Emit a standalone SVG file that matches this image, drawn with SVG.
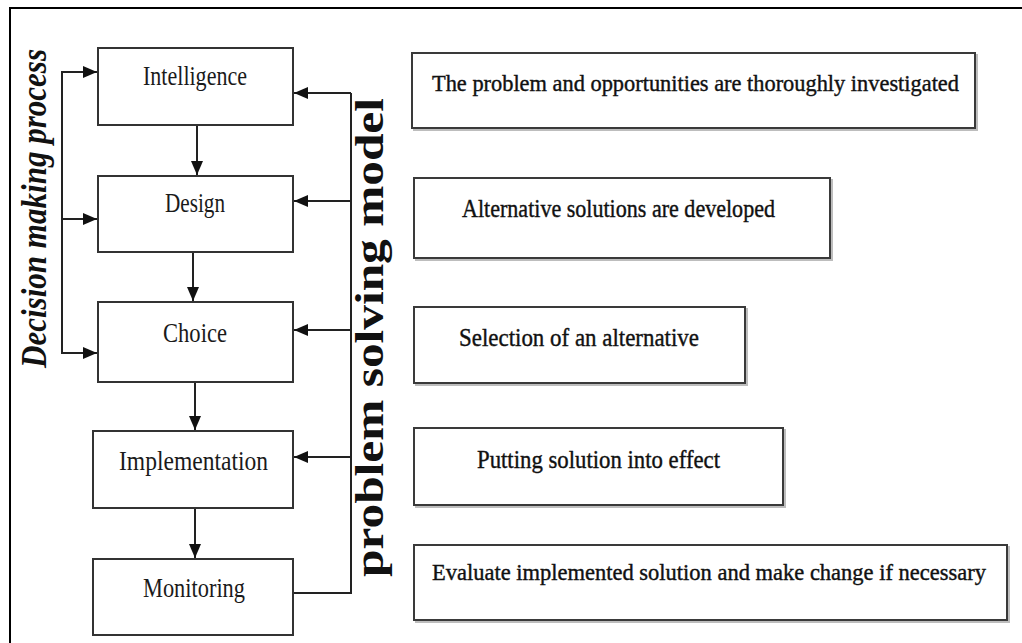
<svg xmlns="http://www.w3.org/2000/svg" width="1022" height="643" viewBox="0 0 1022 643">
  <style>
    .frame { stroke: #000; stroke-width: 2; fill: none; }
    .step { fill: #fff; stroke: #333; stroke-width: 2; }
    .desc { fill: #fff; stroke: #3a3a3a; stroke-width: 2; }
    .shadow { fill: none; stroke: #bdbdbd; stroke-width: 2; }
    .link { stroke: #222; stroke-width: 2; fill: none; }
    .arrow { marker-end: url(#head); }
    .stepText { font-family: "Liberation Serif", serif; font-size: 28px; fill: #1a1a1a; }
    .descText { font-family: "Liberation Serif", serif; font-size: 26px; fill: #111; stroke: #111; stroke-width: 0.4; }
    .long { font-size: 23px; }
    .side { font-family: "Liberation Serif", serif; fill: #111; }
  </style>
  <defs>
    <marker id="head" viewBox="0 0 14 12" refX="14" refY="6" markerWidth="14" markerHeight="12" markerUnits="userSpaceOnUse" orient="auto">
      <path d="M0,0 L14,6 L0,12 Z" fill="#111"/>
    </marker>
  </defs>

  <rect width="1022" height="643" fill="#fff"/>

  <!-- page frame (top and left edges) -->
  <path class="frame" d="M10,643 V8 H1022"/>

  <!-- side captions -->
  <text class="side" transform="translate(46,368) rotate(-90)" font-size="36" font-style="italic" font-weight="bold" textLength="319" lengthAdjust="spacingAndGlyphs">Decision making process</text>
  <text class="side" transform="translate(383,577) rotate(-90)" font-size="39" font-weight="bold" textLength="479" lengthAdjust="spacingAndGlyphs">problem solving model</text>

  <!-- connectors -->
  <g id="connectors">
    <!-- decision making bracket on the left -->
    <path class="link" d="M97,72 H62 V353 H97"/>
    <line class="link arrow" x1="62" y1="72" x2="97" y2="72"/>
    <line class="link arrow" x1="62" y1="219" x2="97" y2="219"/>
    <line class="link arrow" x1="62" y1="353" x2="97" y2="353"/>

    <!-- sequence between phases -->
    <line class="link arrow" x1="197" y1="125" x2="197" y2="175"/>
    <line class="link arrow" x1="193" y1="252" x2="193" y2="301"/>
    <line class="link arrow" x1="195" y1="382" x2="195" y2="430"/>
    <line class="link arrow" x1="195" y1="508" x2="195" y2="558"/>

    <!-- problem solving feedback on the right -->
    <path class="link" d="M293,593 H351 V93"/>
    <line class="link arrow" x1="351" y1="93" x2="294" y2="93"/>
    <line class="link arrow" x1="351" y1="201" x2="294" y2="201"/>
    <line class="link arrow" x1="351" y1="330" x2="294" y2="330"/>
    <line class="link arrow" x1="351" y1="457" x2="294" y2="457"/>
  </g>

  <!-- phases -->
  <g id="intelligence">
    <rect class="step" x="98" y="48" width="195" height="77"/>
    <text class="stepText" x="143" y="85" textLength="104" lengthAdjust="spacingAndGlyphs">Intelligence</text>
  </g>
  <g id="design">
    <rect class="step" x="98" y="176" width="195" height="76"/>
    <text class="stepText" x="165" y="212" textLength="60" lengthAdjust="spacingAndGlyphs">Design</text>
  </g>
  <g id="choice">
    <rect class="step" x="98" y="302" width="195" height="80"/>
    <text class="stepText" x="163" y="342" textLength="64" lengthAdjust="spacingAndGlyphs">Choice</text>
  </g>
  <g id="implementation">
    <rect class="step" x="93" y="431" width="200" height="77"/>
    <text class="stepText" x="119" y="470" textLength="149" lengthAdjust="spacingAndGlyphs">Implementation</text>
  </g>
  <g id="monitoring">
    <rect class="step" x="93" y="559" width="200" height="76"/>
    <text class="stepText" x="143" y="597" textLength="102" lengthAdjust="spacingAndGlyphs">Monitoring</text>
  </g>

  <!-- descriptions -->
  <g id="desc-intelligence">
    <rect class="shadow" x="414" y="55" width="563" height="75"/>
    <rect class="desc" x="412" y="53" width="563" height="75"/>
    <text class="descText long" x="432" y="91" textLength="527" lengthAdjust="spacingAndGlyphs">The problem and opportunities are thoroughly investigated</text>
  </g>
  <g id="desc-design">
    <rect class="shadow" x="416" y="180" width="416" height="80"/>
    <rect class="desc" x="414" y="178" width="416" height="80"/>
    <text class="descText" x="462" y="217" textLength="313" lengthAdjust="spacingAndGlyphs">Alternative solutions are developed</text>
  </g>
  <g id="desc-choice">
    <rect class="shadow" x="416" y="309" width="331" height="76"/>
    <rect class="desc" x="414" y="307" width="331" height="76"/>
    <text class="descText" x="459" y="346" textLength="240" lengthAdjust="spacingAndGlyphs">Selection of an alternative</text>
  </g>
  <g id="desc-implementation">
    <rect class="shadow" x="416" y="430" width="369" height="77"/>
    <rect class="desc" x="414" y="428" width="369" height="77"/>
    <text class="descText" x="477" y="468" textLength="243" lengthAdjust="spacingAndGlyphs">Putting solution into effect</text>
  </g>
  <g id="desc-monitoring">
    <rect class="shadow" x="416" y="547" width="593" height="75"/>
    <rect class="desc" x="414" y="545" width="593" height="75"/>
    <text class="descText long" x="432" y="580" textLength="554" lengthAdjust="spacingAndGlyphs">Evaluate implemented solution and make change if necessary</text>
  </g>
</svg>
